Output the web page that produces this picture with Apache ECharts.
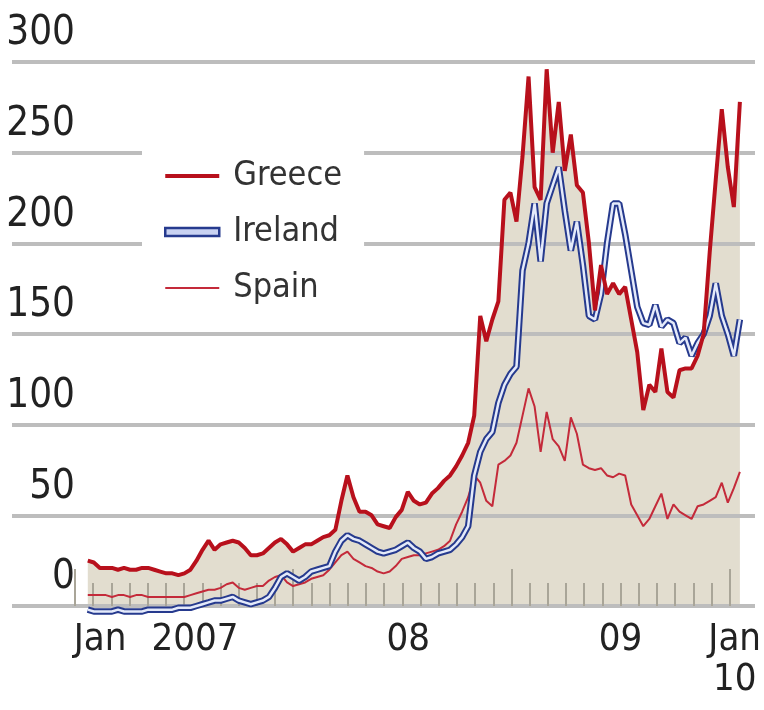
<!DOCTYPE html>
<html>
<head>
<meta charset="utf-8">
<script src="https://cdn.jsdelivr.net/npm/echarts@6/dist/echarts.min.js"></script>
<style>
html,body{margin:0;padding:0;background:#fff;}
#c{width:764px;height:710px;}
</style>
</head>
<body>
<div id="c"></div>
<script>
// Readings roughly every third of a month, mid-Jan 2007 -> early Jan 2010
// (x in months since 1 Jan 2007)
const START = 0.7;
const STEP = 0.3305;
const seriesNames = ['Greece', 'Ireland', 'Spain'];
const yTicks = [0, 50, 100, 150, 200, 250, 300];
const xLabels = {0: '{a|Jan}', 6: '{b|2007}', 18: '{c|08}', 30: '09', 36: '{e|Jan}\n{e|10}'};

const greece = [
  25,24,21,21,21,20,21,20,20,21,
  21,20,19,18,18,17,18,20,25,31,
  36,31,34,35,36,35,32,28,28,29,
  32,35,37,34,30,32,34,34,36,38,
  39,42,58,72,60,52,52,50,45,44,
  43,49,53,63,58,56,57,62,65,69,
  72,77,83,90,105,160,146,158,168,224,
  228,212,248,292,231,224,296,250,278,240,
  260,232,228,200,163,188,172,178,172,176,
  158,140,108,122,118,142,118,115,130,131,
  131,138,150,195,235,274,242,220,278
];
const ireland = [
  -2,-3,-3,-3,-3,-2,-3,-3,-3,-3,
  -2,-2,-2,-2,-2,-1,-1,-1,0,1,
  2,3,3,4,5,3,2,1,2,3,
  5,10,16,18,16,14,16,19,20,21,
  22,30,36,39,37,36,34,32,30,29,
  30,31,33,35,32,30,26,27,29,30,
  31,34,38,44,72,85,92,96,112,122,
  128,132,185,200,222,190,222,232,242,218,
  196,212,188,160,158,172,200,222,222,205,
  185,165,156,155,166,154,158,156,145,148,
  138,145,150,160,178,160,150,138,158
];
const spain = [
  6,6,6,6,5,6,6,5,6,6,
  5,5,5,5,5,5,5,6,7,8,
  9,9,10,12,13,10,9,10,11,11,
  14,16,17,13,11,12,13,15,16,17,
  20,24,28,30,26,24,22,21,19,18,
  19,22,26,27,28,28,29,30,31,33,
  36,45,52,60,72,68,58,55,78,80,
  83,90,105,120,110,85,107,92,88,80,
  104,95,78,76,75,76,72,71,73,72,
  56,50,44,48,55,62,48,56,52,50,
  48,55,56,58,60,68,57,65,74
];

const pts = arr => arr.map((v, i) => [START + i * STEP, v]);

const FONT = "'Liberation Sans Narrow', 'DejaVu Sans Condensed', sans-serif";
const RED = '#b8101c';
const SPAIN = '#c42a3a';
const BLUE = '#263a8e';
const lbl = {fontFamily: FONT, fontSize: 38, lineHeight: 40, color: '#222'};
const noAxisParts = {axisLine: {show: false}, axisLabel: {show: false}, splitLine: {show: false}, axisTick: {show: false}};

const chart = echarts.init(document.getElementById('c'), null, {renderer: 'canvas'});
chart.setOption({
  backgroundColor: '#fff',
  animation: false,
  grid: [
    {left: 12, right: 9, top: 62, bottom: 104},   // frame: gridlines + value labels
    {left: 75, right: 24, top: 62, bottom: 104},  // data (runs a few days past Jan 2010)
    {left: 75, right: 32, top: 62, bottom: 104}   // month ticks and year labels
  ],
  legend: {
    orient: 'vertical',
    left: 142, top: 140,
    padding: [16, 22, 6, 22],
    backgroundColor: '#fff',
    itemWidth: 54, itemHeight: 10, itemGap: 16,
    textStyle: {fontFamily: FONT, fontSize: 34, color: '#333', padding: [0, 0, 0, 9], lineHeight: 40},
    data: [
      {name: seriesNames[0], icon: 'path://M0,0L1,0M0,10L1,10M0,3L54,3L54,7L0,7Z', itemStyle: {color: RED}},
      {name: seriesNames[1], icon: 'path://M0,1L54,1L54,9L0,9Z', itemStyle: {color: '#c9d2f2', borderColor: BLUE, borderWidth: 2.5}},
      {name: seriesNames[2], icon: 'path://M0,0L1,0M0,10L1,10M0,4L54,4L54,6L0,6Z', itemStyle: {color: SPAIN}}
    ]
  },
  xAxis: [
    Object.assign({gridIndex: 0, type: 'value', min: 0, max: 1, show: false}, noAxisParts),
    Object.assign({gridIndex: 1, type: 'value', min: 0, max: 36.4, show: false}, noAxisParts),
    {gridIndex: 2, type: 'value', position: 'bottom', offset: 0, min: 0, max: 36, interval: 1, z: 2,
     axisLine: {show: false}, axisLabel: {show: false}, splitLine: {show: false},
     axisTick: {show: true, inside: true, length: 23, lineStyle: {color: '#a9a598', width: 2}}},
    {gridIndex: 2, type: 'value', position: 'bottom', offset: 0, min: 0, max: 36, interval: 12, z: 2,
     axisLine: {show: false}, axisLabel: {show: false}, splitLine: {show: false},
     axisTick: {show: true, inside: true, length: 37, lineStyle: {color: '#a9a598', width: 2}}},
    {gridIndex: 2, type: 'value', position: 'bottom', offset: 0, min: 0, max: 36, interval: 6,
     axisLine: {show: false}, axisTick: {show: false}, splitLine: {show: false},
     axisLabel: Object.assign({show: true, margin: 14,
       formatter: v => (xLabels[v] || ''),
       rich: {
         a: Object.assign({padding: [0, 0, 0, 50]}, lbl),
         b: Object.assign({padding: [0, 0, 0, 22]}, lbl),
         c: Object.assign({padding: [0, 0, 0, 12]}, lbl),
         e: Object.assign({padding: [0, 0, 0, 10]}, lbl)
       }}, lbl)}
  ],
  yAxis: [
    {gridIndex: 0, type: 'value', min: 0, max: 300, interval: 50, z: 2,
     axisLine: {show: false}, axisTick: {show: false},
     splitLine: {show: true, lineStyle: {color: '#bdbdbd', width: 4}},
     axisLabel: {inside: true, margin: 63, align: 'right', verticalAlign: 'bottom',
       fontFamily: FONT, fontSize: 40, lineHeight: 40, color: '#222', padding: [0, 0, 8, 0],
       formatter: v => (yTicks.indexOf(v) >= 0 ? String(v) : '')}},
    {gridIndex: 1, type: 'value', min: 0, max: 300, interval: 50, show: false},
    {gridIndex: 2, type: 'value', min: 0, max: 300, interval: 50, show: false}
  ],
  series: [
    {name: 'shade', type: 'line', xAxisIndex: 1, yAxisIndex: 1, data: pts(greece), symbol: 'none',
     clip: false, lineStyle: {width: 0, opacity: 0}, areaStyle: {color: '#e2ddcf', opacity: 1}, z: 1, silent: true},
    {name: seriesNames[2], type: 'line', xAxisIndex: 1, yAxisIndex: 1, data: pts(spain), symbol: 'none',
     clip: false, lineStyle: {color: SPAIN, width: 2}, itemStyle: {color: SPAIN}, z: 3},
    {name: seriesNames[1], type: 'line', xAxisIndex: 1, yAxisIndex: 1, data: pts(ireland), symbol: 'none',
     clip: false, lineStyle: {color: BLUE, width: 6.5}, itemStyle: {color: BLUE}, z: 4},
    {name: 'Ireland inner', type: 'line', xAxisIndex: 1, yAxisIndex: 1, data: pts(ireland), symbol: 'none',
     clip: false, lineStyle: {color: '#e4eafa', width: 2.5}, z: 5, silent: true},
    {name: seriesNames[0], type: 'line', xAxisIndex: 1, yAxisIndex: 1, data: pts(greece), symbol: 'none',
     clip: false, lineStyle: {color: RED, width: 4}, itemStyle: {color: RED}, z: 6}
  ]
});
</script>
</body>
</html>
